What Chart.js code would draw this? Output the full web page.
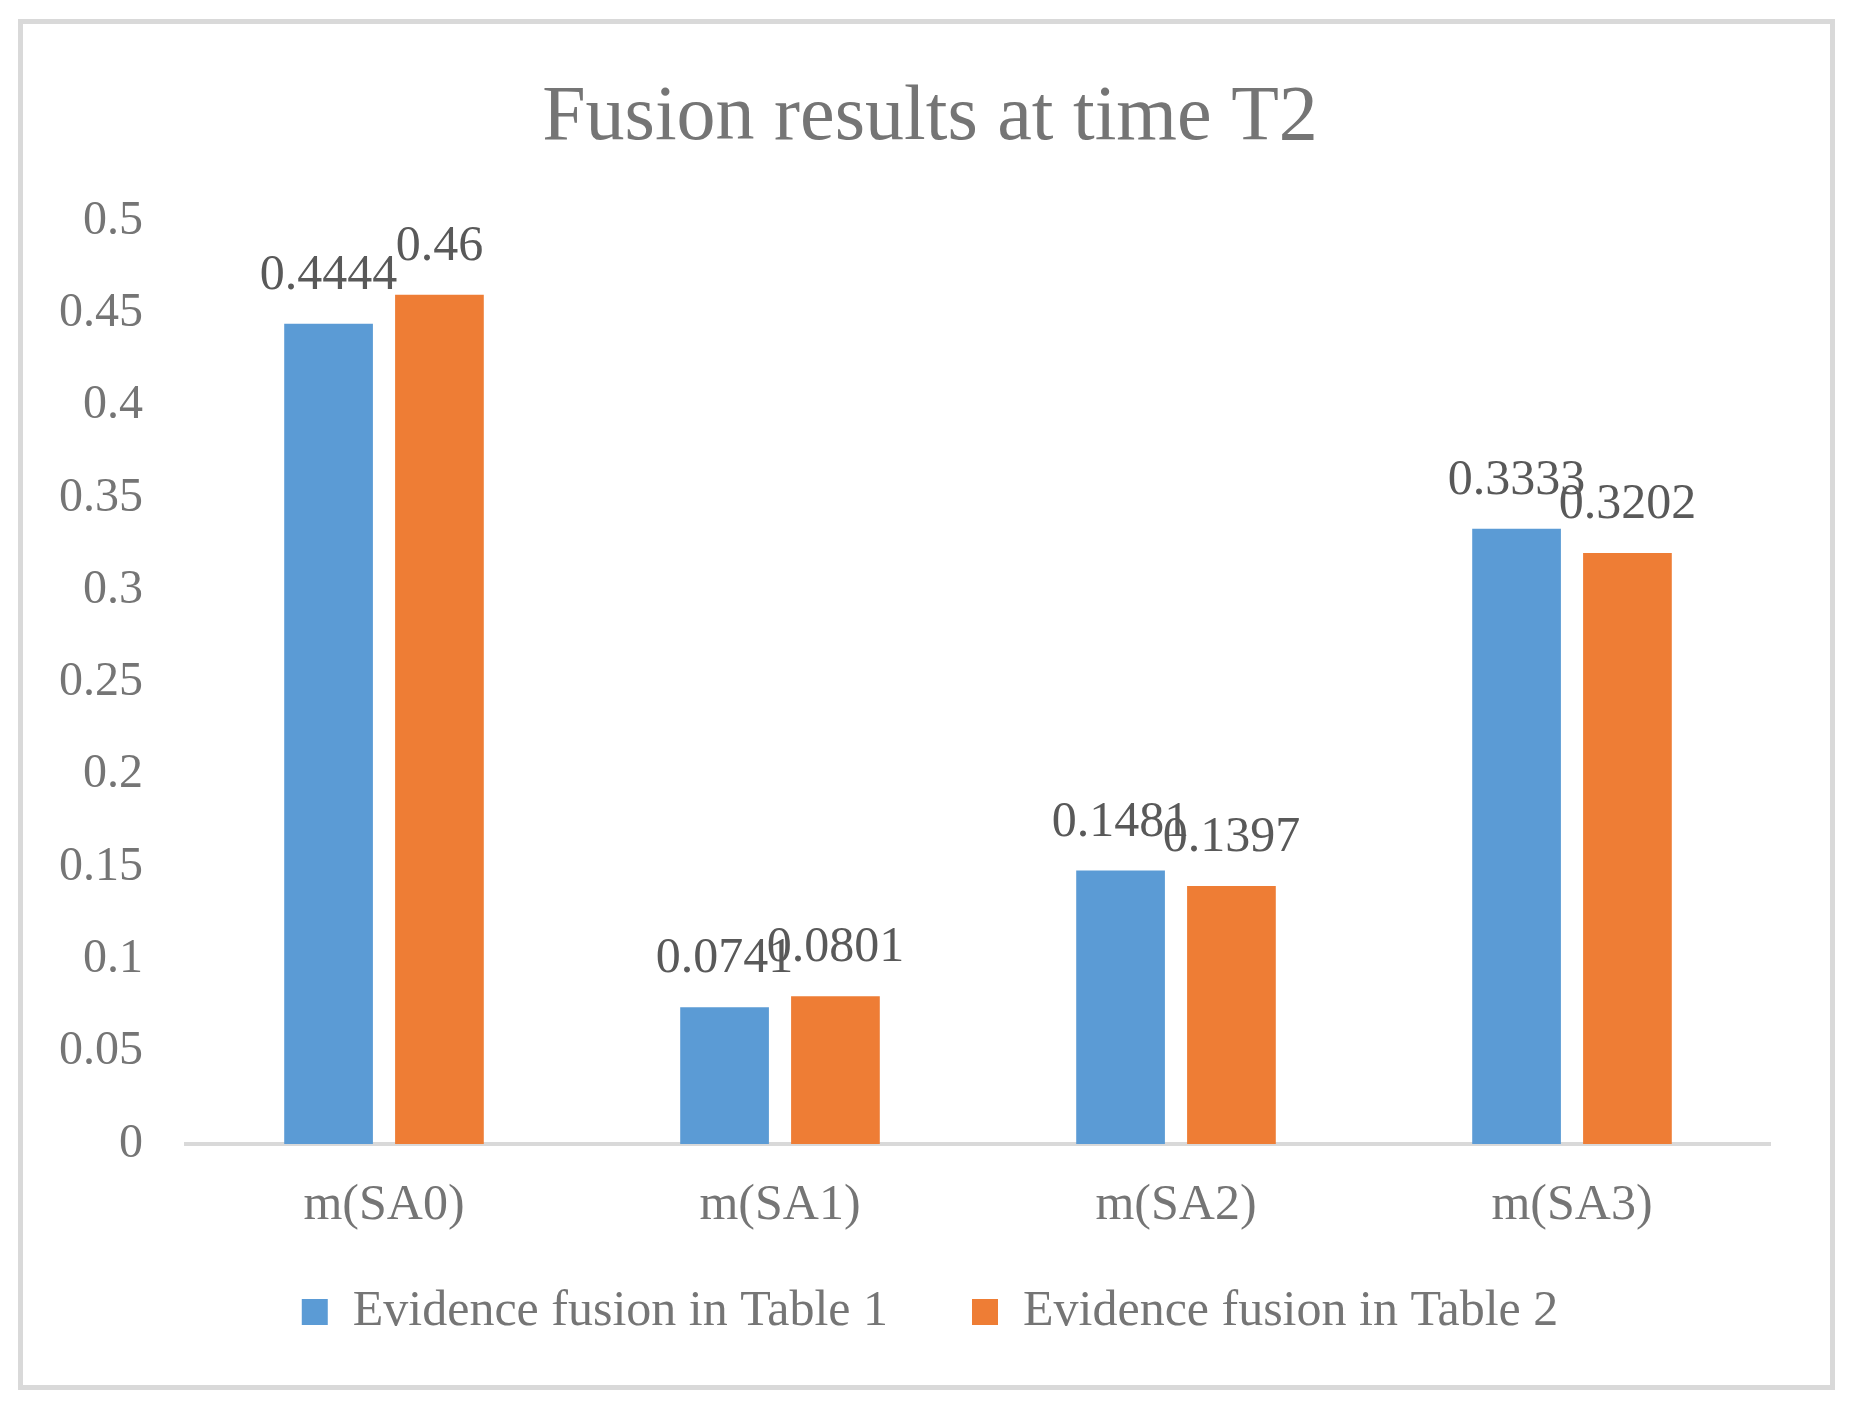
<!DOCTYPE html>
<html>
<head>
<meta charset="utf-8">
<title>Fusion results at time T2</title>
<script src="https://cdn.jsdelivr.net/npm/chart.js@4.4.1/dist/chart.umd.min.js"></script>
<style>
    html, body { margin: 0; padding: 0; background: #fff; }
    #wrap { position: relative; width: 1856px; height: 1410px; }
    #frame {
        position: absolute; left: 18px; top: 19px; width: 1817px; height: 1371px;
        box-sizing: border-box; border: 5px solid #d9d9d9; pointer-events: none;
    }
</style>
</head>
<body>
<div id="wrap">
    <canvas id="fusionChart"></canvas>
    <div id="frame"></div>
</div>
<script>
const categories = ['m(SA0)', 'm(SA1)', 'm(SA2)', 'm(SA3)'];
const seriesNames = ['Evidence fusion in Table 1', 'Evidence fusion in Table 2'];
const table1Values = [0.4444, 0.0741, 0.1481, 0.3333];
const table2Values = [0.46, 0.0801, 0.1397, 0.3202];
const yTicks = [0, 0.05, 0.1, 0.15, 0.2, 0.25, 0.3, 0.35, 0.4, 0.45, 0.5];
const yTickLabels = ['0', '0.05', '0.1', '0.15', '0.2', '0.25', '0.3', '0.35', '0.4', '0.45', '0.5'];

const serif = "'Liberation Serif', 'Times New Roman', serif";
const textGray = '#757575';

// value labels above each bar (no datalabels plugin available offline)
const barValueLabels = {
    id: 'barValueLabels',
    afterDatasetsDraw(chart) {
        const ctx = chart.ctx;
        ctx.save();
        ctx.font = '50px ' + serif;
        ctx.fillStyle = '#595959';
        ctx.textAlign = 'center';
        ctx.textBaseline = 'alphabetic';
        chart.data.datasets.forEach((ds, i) => {
            chart.getDatasetMeta(i).data.forEach((bar, j) => {
                ctx.fillText(String(ds.data[j]), bar.x, bar.y - 35);
            });
        });
        ctx.restore();
    }
};

// axis boxes are kept narrow so title and legend centre like the original;
// let the tick labels spill out of them instead of being clipped
const noLabelClip = scale => {
    scale._computeLabelArea = () => undefined;
};

const ctx = document.getElementById('fusionChart').getContext('2d');
new Chart(ctx, {
    type: 'bar',
    data: {
        labels: categories,
        datasets: [{
            label: seriesNames[0],
            data: table1Values,
            backgroundColor: '#5B9BD5',
            borderWidth: 0
        },
        {
            label: seriesNames[1],
            data: table2Values,
            backgroundColor: '#EE7D35',
            borderWidth: 0
        }]
    },
    options: {
        responsive: true,
        maintainAspectRatio: false,
        animation: false,
        datasets: {
            bar: {
                categoryPercentage: 0.56,
                barPercentage: 0.8
            }
        },
        layout: {
            padding: { left: 90, right: 86, top: 0, bottom: 63 }
        },
        plugins: {
            title: {
                display: true,
                text: 'Fusion results at time T2',
                color: textGray,
                font: { family: serif, size: 78, weight: 'normal' },
                padding: { top: 72, bottom: 55.4 }
            },
            legend: {
                position: 'bottom',
                labels: {
                    color: textGray,
                    font: { family: serif, size: 50 },
                    boxWidth: 26,
                    boxHeight: 26,
                    padding: 84
                }
            },
            tooltip: { enabled: false }
        },
        scales: {
            x: {
                grid: { display: false, drawTicks: false },
                border: { display: true, color: '#d9d9d9', width: 4 },
                ticks: {
                    color: textGray,
                    font: { family: serif, size: 50 },
                    padding: 32,
                    maxRotation: 0
                },
                afterFit: scale => {
                    scale.height = 59;
                    noLabelClip(scale);
                }
            },
            y: {
                min: 0,
                max: 0.5,
                grid: { display: false, drawTicks: false },
                border: { display: false },
                afterBuildTicks: scale => {
                    scale.ticks = yTicks.map(v => ({ value: v }));
                },
                ticks: {
                    color: textGray,
                    font: { family: serif, size: 48 },
                    padding: 43,
                    callback: (value, index) => yTickLabels[index]
                },
                afterFit: scale => {
                    scale.width = 96;
                    noLabelClip(scale);
                }
            }
        }
    },
    plugins: [barValueLabels]
});
</script>
</body>
</html>
